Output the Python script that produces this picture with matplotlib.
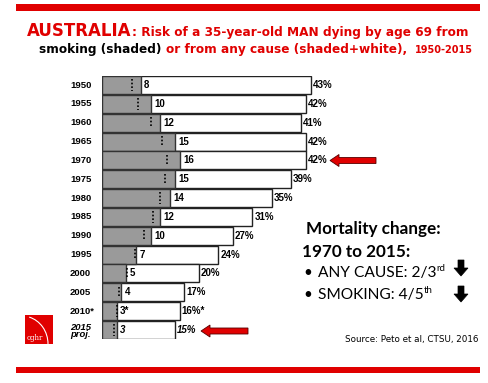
import matplotlib
matplotlib.use("Agg")
import matplotlib.pyplot as plt
from matplotlib.patches import FancyArrow, Rectangle, Arc

# --- Data ---
years = ["1950", "1955", "1960", "1965", "1970", "1975", "1980",
         "1985", "1990", "1995", "2000", "2005", "2010*", "2015\nproj."]
any_cause = [43, 42, 41, 42, 42, 39, 35, 31, 27, 24, 20, 17, 16, 15]
smoking = [8, 10, 12, 15, 16, 15, 14, 12, 10, 7, 5, 4, 3, 3]
dotted = [6.2, 7.4, 10.1, 12.4, 13.4, 13.0, 12.0, 10.5, 8.7, 6.8, 5.1, 3.5, 3.0, 2.5]
smk_labels = ["8", "10", "12", "15", "16", "15", "14", "12", "10", "7", "5", "4", "3*", "3"]
tot_labels = ["43%", "42%", "41%", "42%", "42%", "39%", "35%", "31%", "27%",
              "24%", "20%", "17%", "16%*", "15%"]

W, H = 488, 383
RED = "#e00000"
fig = plt.figure(figsize=(W / 100, H / 100), dpi=100)

# overlay axes in pixel coordinates for decorations and text
ov = fig.add_axes([0, 0, 1, 1])
ov.set_xlim(0, W)
ov.set_ylim(H, 0)
ov.axis("off")

# --- bar axes ---
px_per = 4.85
x0 = 102
y_top, y_bot = 85 - 9.4, 330 + 9.4
ax = fig.add_axes([x0 / W, 1 - y_bot / H, 50 * px_per / W, (y_bot - y_top) / H])
ax.set_xlim(0, 50)
n = len(years)
ax.set_ylim(n - 0.5, -0.5)
ax.axis("off")

ypos = list(range(n))
ax.barh(ypos, any_cause, height=0.95, color="white", edgecolor="#222222", linewidth=1.0)
ax.barh(ypos, smoking, height=0.95, color="#9a9a9a", edgecolor="#333333", linewidth=1.0)
for i in ypos:
    ax.plot([dotted[i], dotted[i]], [i - 0.3, i + 0.3], color="black",
            linestyle=(0, (1, 1.2)), linewidth=1.2)
    style = "italic" if i == n - 1 else "normal"
    ax.text(smoking[i] + 0.7, i, smk_labels[i], va="center", ha="left",
            fontsize=7, fontweight="bold", style=style, family="Liberation Sans")
    ax.text(any_cause[i] + 0.4, i, tot_labels[i], va="center", ha="left",
            fontsize=7, fontweight="bold", style=style, family="Liberation Sans")
    ov.text(70, 85 + i * 18.85 + (0 if i < n - 1 else 1), years[i], va="center", ha="left",
            fontsize=6.8, fontweight="bold", style=style, family="Liberation Sans",
            linespacing=0.8)

# --- red rules ---
ov.add_patch(Rectangle((16, 4), 464, 7, color=RED, lw=0))
ov.add_patch(Rectangle((16, 367), 464, 6, color=RED, lw=0))

# --- title, chained pieces ---
fig.canvas.draw()
renderer = fig.canvas.get_renderer()


def chain(x, y, pieces, family="DejaVu Sans"):
    for txt, size, color, weight, dy in pieces:
        t = ov.text(x, y + dy, txt, fontsize=size, color=color, fontweight=weight,
                    family=family, va="baseline", ha="left")
        bb = t.get_window_extent(renderer)
        x = x + bb.width
    return x


chain(27, 36, [("AUSTRALIA", 12.0, RED, "bold", 0),
               (": Risk of a 35-year-old MAN dying by age 69 from", 8.7, RED, "bold", 0)])
chain(39, 53, [("smoking (shaded) ", 8.7, "black", "bold", 0),
               ("or from any cause (shaded+white),  ", 8.7, RED, "bold", 0),
               ("1950-2015", 7.0, RED, "bold", 0)])

ov.text(306, 234, "Mortality change:", fontsize=12.3, fontweight="bold", family="Lato",
        va="baseline", ha="left")
ov.text(302, 257, "1970 to 2015:", fontsize=12.3, fontweight="bold", family="Lato",
        va="baseline", ha="left")
ov.text(303, 277, "\u2022", fontsize=11, family="Lato", va="baseline", ha="left")
ov.text(303, 299, "\u2022", fontsize=11, family="Lato", va="baseline", ha="left")
chain(318, 277, [("ANY CAUSE: 2/3", 11.2, "black", "normal", 0),
                 ("rd", 7, "black", "normal", -6)], family="Lato")
chain(318, 299, [("SMOKING: 4/5", 11.2, "black", "normal", 0),
                 ("th", 7, "black", "normal", -6)], family="Lato")
ov.text(478, 342, "Source: Peto et al, CTSU, 2016", fontsize=6.3, family="DejaVu Sans",
        va="baseline", ha="right")

# --- arrows ---
for tail, tip, y in [(376, 330, 160.5), (248, 201, 331)]:
    ov.add_patch(FancyArrow(tail, y, tip - tail, 0, width=6, head_width=12,
                            head_length=9, length_includes_head=True,
                            facecolor=RED, edgecolor="#550000", linewidth=0.6))
for top, bot in [(260, 276), (286, 302)]:
    ov.add_patch(FancyArrow(461, top, 0, bot - top, width=6, head_width=14,
                            head_length=8, length_includes_head=True,
                            facecolor="black", edgecolor="black", linewidth=0.5))

# --- logo ---
ov.add_patch(Rectangle((25, 315), 28, 29, color=RED, lw=0))
ov.add_patch(Arc((22, 344), 52, 56, theta1=285, theta2=360, color="white", lw=0.8))
ov.text(27, 340, "cghr", fontsize=5, color="white", family="DejaVu Serif",
        va="baseline", ha="left")

fig.savefig("out.png", dpi=100)
